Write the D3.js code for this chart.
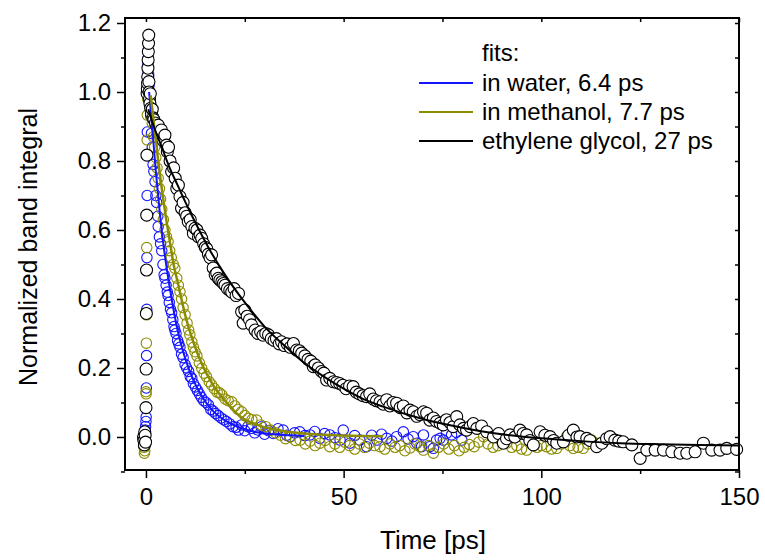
<!DOCTYPE html>
<html>
<head>
<meta charset="utf-8">
<script src="https://cdn.jsdelivr.net/npm/d3@7"></script>
<style>
  body { margin: 0; background: #fff; }
  svg text { font-family: "Liberation Sans", Arial, sans-serif; fill: #000; }
</style>
</head>
<body>
<svg id="chart" width="765" height="560"></svg>
<script>
// data: [time ps, normalized band integral]
const waterPts = [
  [-0.6,-0.01],[-0.4,0.0],[-0.3,0.01],[-0.2,0.02],[-0.1,0.03],[0.0,0.045],[0.05,0.058],[0.1,0.142],[0.15,0.236],[0.2,0.37],
  [0.25,0.52],[0.3,0.70],[0.35,0.884],[0.4,1.0],[0.45,1.05],[0.5,1.08],[0.55,1.12],[0.6,1.1],[0.7,1.05],[0.8,1.02],[0.9,0.99],
  [1.0,0.96],[1.2,0.93],[1.4,0.88],[1.6,0.84],[1.8,0.79],[2.0,0.77],[2.3,0.74],[2.5,0.70],[2.7,0.68],[3.0,0.64],
  [3.1,0.61],[3.4,0.58],[3.7,0.56],[4.0,0.54],[4.3,0.50],[4.6,0.47],[4.8,0.46],[5.1,0.44],[5.4,0.42],[5.6,0.41],
  [5.9,0.39],[6.2,0.37],[6.5,0.36],[6.8,0.34],[7.1,0.32],[7.3,0.31],[7.6,0.30],[8.0,0.28],[8.3,0.27],[8.6,0.26],
  [9.0,0.24],[9.4,0.23],[9.9,0.21],[10.3,0.20],[10.8,0.19],[11.2,0.175],[11.6,0.17],[12.0,0.155],[12.5,0.145],[13.0,0.135],
  [13.5,0.125],[14.0,0.115],[14.6,0.105],[15.2,0.10],[15.8,0.093],[16.4,0.08],[17.0,0.075],[17.6,0.068],[18.3,0.062],[19.0,0.055],
  [19.7,0.05],[20.4,0.045],[21.2,0.038],[22.0,0.03],[22.8,0.028],[23.4,0.02],[24.2,0.035],[25.0,0.018],[25.8,0.03],[26.7,0.025],
  [27.5,0.012],[28.3,0.02],[29.2,0.03],[30.0,0.008],[31.0,0.018],[32.2,0.01],[33.4,0.024],[34.7,0.02],[35.6,0.005],[36.4,0.001],
  [37.6,0.012],[38.9,0.015],[40.2,0.004],[41.5,0.006],[42.7,0.016],[44.0,-0.004],[45.2,0.01],[46.5,0.006],[47.8,-0.002],[49.1,-0.009],
  [49.9,0.02],[51.6,-0.018],[52.8,0.004],[54.1,-0.009],[55.8,-0.028],[57.1,0.005],[58.4,-0.009],[59.6,0.008],[60.9,-0.004],[62.2,-0.012],
  [63.4,0.001],[65.1,0.015],[66.3,-0.006],[67.6,0.001],[68.5,-0.018],[69.7,-0.028],[70.2,0.006],[71.8,-0.028],[72.7,-0.033],[73.5,-0.009],
  [74.4,-0.004],[75.2,-0.009],[76.0,0.01],[77.3,0.006],[78.5,0.013],[79.9,-0.009]
]

const methanolPts = [
  [-0.8,-0.005],[-0.5,-0.03],[-0.4,-0.047],[-0.3,-0.04],[-0.2,0.0],[-0.1,0.01],[0.0,0.131],[0.05,0.125],[0.1,0.272],[0.15,0.354],
  [0.2,0.549],[0.25,0.643],[0.3,0.861],[0.35,0.933],[0.45,0.98],[0.55,1.0],[0.7,0.99],[0.9,0.97],
  [1.1,0.95],[1.3,0.93],[1.6,0.91],[1.9,0.87],[2.2,0.84],[2.5,0.81],[2.8,0.78],[3.1,0.75],[3.4,0.72],[3.7,0.69],
  [4.0,0.66],[4.4,0.63],[4.8,0.6],[5.2,0.58],[5.6,0.566],[6.0,0.54],[6.4,0.52],[6.9,0.5],[7.3,0.489],[7.8,0.46],
  [8.2,0.44],[8.6,0.421],[9.0,0.4],[9.4,0.375],[9.9,0.354],[10.4,0.33],[10.8,0.31],[11.1,0.296],[11.6,0.275],[12.0,0.26],
  [12.4,0.247],[12.9,0.235],[13.5,0.215],[14.1,0.199],[14.7,0.185],[15.3,0.175],[16.0,0.16],[16.6,0.151],[17.3,0.14],[18.0,0.13],
  [18.6,0.128],[19.2,0.122],[20.0,0.11],[20.8,0.105],[21.7,0.102],[22.5,0.09],[23.3,0.08],[24.2,0.073],[25.0,0.062],[25.9,0.054],
  [26.8,0.05],[28.0,0.049],[29.0,0.035],[30.3,0.03],[31.5,0.02],[32.8,0.012],[34.0,0.005],[35.3,-0.005],[36.5,0.0],[37.8,-0.01],
  [39.0,-0.009],[40.3,-0.02],[41.5,-0.012],[42.8,-0.025],[44.0,-0.018],[45.3,-0.01],[46.5,-0.028],[47.8,-0.02],[49.0,-0.03],[50.3,-0.015],
  [51.5,-0.025],[52.8,-0.035],[54.0,-0.02],[55.3,-0.03],[56.5,-0.018],[57.8,-0.025],[59.2,-0.028],[60.4,-0.035],[61.7,-0.02],[63.0,-0.03],
  [64.2,-0.025],[65.5,-0.04],[66.8,-0.032],[68.0,-0.02],[69.3,-0.028],[70.2,-0.038],[71.5,-0.025],[72.7,-0.047],[74.0,-0.03],[75.3,-0.02],
  [76.6,-0.035],[78.0,-0.025],[79.2,-0.04],[80.5,-0.03],[81.8,-0.022],[83.0,-0.028],[84.2,-0.015],[85.4,0.001],[86.5,-0.02],[87.8,-0.03],
  [89.0,-0.025],[90.0,-0.01],[91.2,-0.018],[92.5,-0.03],[93.8,-0.025],[95.0,-0.035],[96.3,-0.038],[97.6,-0.02],[98.9,-0.03],[100.0,-0.025],
  [101.3,-0.028],[102.6,-0.035],[103.9,-0.033],[105.1,-0.02],[106.4,0.001],[107.2,-0.025],[108.1,-0.033],[109.3,-0.03],[110.6,-0.033],[111.8,-0.02],
  [112.7,-0.009],[114.0,-0.018]
]

const glycolPts = [
  [-0.6,0.0],[-0.5,-0.01],[-0.4,-0.023],[-0.3,0.015],[-0.2,0.005],[-0.1,-0.015],[0.0,0.085],[0.05,0.197],[0.1,0.358],[0.15,0.484],
  [0.2,0.643],[0.25,0.817],[0.3,0.996],[0.35,1.01],[0.4,1.025],[0.45,1.044],[0.5,1.069],[0.55,1.093],[0.6,1.117],[0.65,1.141],
  [0.7,1.165],[0.75,1.03],[0.8,1.0],[0.9,0.98],[1.0,0.967],[1.1,0.995],[1.2,0.953],[1.4,0.938],[1.6,0.95],[1.8,0.925],
  [2.0,0.92],[2.4,0.91],[2.8,0.9],[3.1,0.904],[3.5,0.88],[3.9,0.89],[4.3,0.86],[4.8,0.875],[5.2,0.846],[5.4,0.827],
  [5.7,0.84],[6.1,0.8],[6.5,0.769],[7.0,0.78],[7.4,0.75],[7.8,0.72],[8.2,0.73],[8.6,0.697],[9.0,0.663],[9.4,0.68],
  [9.9,0.65],[10.3,0.64],[10.7,0.624],[11.2,0.63],[11.6,0.61],[12.0,0.59],[12.4,0.605],[12.9,0.6],[13.3,0.58],[13.7,0.585],
  [14.1,0.576],[14.6,0.56],[15.0,0.55],[15.4,0.545],[15.8,0.53],[16.2,0.52],[16.6,0.528],[17.0,0.49],[17.5,0.47],[17.9,0.475],
  [18.3,0.46],[18.7,0.455],[19.2,0.45],[19.6,0.445],[20.0,0.44],[20.6,0.43],[21.2,0.425],[21.7,0.42],[22.3,0.43],[22.8,0.41],
  [23.4,0.416],[24.2,0.363],[24.6,0.33],[25.0,0.368],[25.6,0.35],[26.2,0.34],[26.7,0.325],[27.6,0.31],[28.3,0.3],[29.0,0.305],
  [29.6,0.295],[30.3,0.3],[31.0,0.296],[31.7,0.285],[32.4,0.28],[33.0,0.285],[33.7,0.27],[34.3,0.276],[35.0,0.265],[35.7,0.27],
  [36.5,0.26],[37.3,0.271],[38.1,0.252],[38.8,0.25],[39.4,0.243],[40.2,0.235],[41.0,0.225],[41.7,0.22],[42.3,0.204],[42.8,0.209],
  [43.6,0.2],[44.4,0.19],[45.0,0.185],[45.7,0.165],[46.5,0.17],[47.4,0.16],[48.2,0.158],[49.0,0.155],[49.8,0.15],[50.6,0.14],
  [51.5,0.148],[52.4,0.146],[53.2,0.13],[54.0,0.125],[54.9,0.12],[55.8,0.117],[56.6,0.125],[57.5,0.11],[58.3,0.105],[59.2,0.102],
  [60.0,0.095],[60.9,0.108],[61.7,0.09],[62.5,0.1],[63.4,0.098],[64.3,0.085],[65.1,0.09],[66.0,0.07],[66.8,0.078],[67.6,0.073],
  [68.5,0.06],[69.3,0.065],[70.2,0.073],[71.0,0.069],[71.8,0.049],[72.7,0.055],[73.5,0.045],[74.4,0.04],[75.2,0.035],[76.0,0.05],
  [76.9,0.042],[77.7,0.03],[78.6,0.059],[79.4,0.035],[80.3,0.025],[81.1,0.02],[82.0,0.03],[82.8,0.039],[83.7,0.025],[84.9,0.032],
  [86.2,0.015],[87.9,0.0],[89.2,0.01],[90.4,-0.018],[91.2,-0.005],[92.1,0.006],[93.3,0.0],[94.6,0.02],[95.4,0.01],[96.3,0.006],
  [97.1,-0.01],[98.0,-0.023],[99.7,0.015],[100.9,0.005],[102.2,0.001],[103.1,-0.01],[103.9,-0.018],[105.6,-0.014],[106.9,0.005],[108.1,0.02],
  [109.0,0.0],[109.8,0.001],[111.5,-0.004],[112.3,-0.01],[114.0,-0.028],[115.3,-0.018],[116.5,-0.005],[117.4,0.001],[118.6,-0.009],[119.6,-0.012],
  [120.7,-0.014],[122.9,-0.023],[125.0,-0.062],[126.7,-0.038],[128.8,-0.038],[130.9,-0.038],[133.0,-0.043],[135.1,-0.047],[136.8,-0.047],[138.9,-0.043],
  [141.0,-0.018],[143.1,-0.038],[145.2,-0.038],[146.9,-0.033],[149.4,-0.036]
]

// fit curves
const waterFitT = [0.8, 1.5, 2.5, 3.5, 4.5, 5.5, 6.5, 8, 10, 12, 14, 17, 20, 24, 28, 33, 40]
const waterFitV = [1.0, 0.91, 0.77, 0.65, 0.55, 0.47, 0.4, 0.31, 0.225, 0.165, 0.12, 0.075, 0.048, 0.026, 0.014, 0.007, 0.003]
const methanolFitT = [1.2, 2, 3, 4, 5, 6, 7, 8, 10, 12, 14, 17, 20, 24, 28, 33, 40, 50, 60]
const methanolFitV = [0.99, 0.91, 0.81, 0.72, 0.64, 0.57, 0.5, 0.45, 0.35, 0.275, 0.215, 0.15, 0.105, 0.058, 0.036, 0.02, 0.01, 0.004, 0.002]
const glycolFitT = [0.6, 2, 4, 6, 8, 10, 13, 16, 20, 25, 30, 35, 40, 45, 50, 55, 60, 70, 80, 90, 100, 110, 120, 130, 140, 150]
const glycolFitV = [0.95, 0.9, 0.84, 0.78, 0.73, 0.68, 0.61, 0.545, 0.47, 0.39, 0.32, 0.265, 0.215, 0.175, 0.14, 0.11, 0.088, 0.052, 0.027, 0.008, -0.004, -0.012, -0.018, -0.021, -0.023, -0.025]

const xTicks = [0, 50, 100, 150]
const xMinor = [25, 75, 125]
const yTicks = [0.0, 0.2, 0.4, 0.6, 0.8, 1.0, 1.2]
const yMinor = [-0.1, 0.1, 0.3, 0.5, 0.7, 0.9, 1.1]

const legendLabels = ['in water, 6.4 ps', 'in methanol, 7.7 ps', 'ethylene glycol, 27 ps']
const seriesColors = ['#1414ff', '#8c8c00', '#000000']

// layout
const plotLeft = 125, plotRight = 739, plotTop = 18, plotBottom = 470
const svg = d3.select('#chart')

const x = d3.scaleLinear([-5.3, 150], [plotLeft, plotRight])
const y = d3.scaleLinear([-0.0957, 1.2145], [plotBottom, plotTop])

// scatter points
const plot = svg.append('g')
const pointSets = [
  {pts: waterPts, color: seriesColors[0], fill: 'none', r: 5.2},
  {pts: methanolPts, color: seriesColors[1], fill: 'none', r: 5.2},
  {pts: glycolPts, color: seriesColors[2], fill: '#fff', r: 6}
]
pointSets.forEach((s) => {
  plot.append('g').selectAll('circle').data(s.pts).join('circle')
    .attr('cx', (d) => x(d[0]))
    .attr('cy', (d) => y(d[1]))
    .attr('r', s.r)
    .attr('fill', s.fill)
    .attr('stroke', s.color)
    .attr('stroke-width', 1.1)
})

// fit lines
const line = d3.line().x((d) => x(d[0])).y((d) => y(d[1])).curve(d3.curveMonotoneX)
const fits = [
  {t: waterFitT, v: waterFitV, color: seriesColors[0], w: 2},
  {t: methanolFitT, v: methanolFitV, color: seriesColors[1], w: 2.5},
  {t: glycolFitT, v: glycolFitV, color: seriesColors[2], w: 2}
]
fits.forEach((f) => {
  plot.append('path')
    .datum(f.t.map((t, i) => [t, f.v[i]]))
    .attr('d', line)
    .attr('fill', 'none')
    .attr('stroke', f.color)
    .attr('stroke-width', f.w)
})

// axes
function styleAxis(g) {
  g.select('.domain').remove()
  g.selectAll('line').attr('stroke', '#000').attr('stroke-width', 1.5)
  g.selectAll('text').style('font-size', '24px').attr('fill', '#000')
}

svg.append('g').attr('transform', `translate(${plotLeft},0)`)
  .call(d3.axisLeft(y).tickValues(yTicks).tickFormat(d3.format('.1f')).tickSize(8).tickPadding(6))
  .call(styleAxis)
svg.append('g').attr('transform', `translate(${plotLeft},0)`)
  .call(d3.axisLeft(y).tickValues(yMinor).tickFormat('').tickSize(4))
  .call(styleAxis)
svg.append('g').attr('transform', `translate(0,${plotBottom})`)
  .call(d3.axisBottom(x).tickValues(xTicks).tickFormat(d3.format('d')).tickSize(8).tickPadding(10))
  .call(styleAxis)
svg.append('g').attr('transform', `translate(0,${plotBottom})`)
  .call(d3.axisBottom(x).tickValues(xMinor).tickFormat('').tickSize(4))
  .call(styleAxis)
// mirrored inner ticks on top and right
svg.append('g').attr('transform', `translate(0,${plotTop})`)
  .call(d3.axisBottom(x).tickValues(xTicks.concat(xMinor)).tickFormat('').tickSize(4))
  .call(styleAxis)
svg.append('g').attr('transform', `translate(${plotRight},0)`)
  .call(d3.axisLeft(y).tickValues(yTicks.concat(yMinor)).tickFormat('').tickSize(4))
  .call(styleAxis)

svg.append('rect')
  .attr('x', plotLeft).attr('y', plotTop)
  .attr('width', plotRight - plotLeft).attr('height', plotBottom - plotTop)
  .attr('fill', 'none').attr('stroke', '#000').attr('stroke-width', 2)

// titles
svg.append('text')
  .attr('x', 433).attr('y', 549)
  .attr('text-anchor', 'middle').style('font-size', '26px')
  .text('Time [ps]')
svg.append('text')
  .attr('transform', 'translate(37,247) rotate(-90)')
  .attr('text-anchor', 'middle').style('font-size', '25px')
  .text('Normalized band integral')

// legend
const legend = svg.append('g')
legend.append('text').attr('x', 482).attr('y', 61).style('font-size', '24px').text('fits:')
legendLabels.forEach((lab, i) => {
  const ly = 83 + i * 29
  legend.append('line')
    .attr('x1', 419).attr('x2', 473).attr('y1', ly).attr('y2', ly)
    .attr('stroke', seriesColors[i]).attr('stroke-width', 2)
  legend.append('text')
    .attr('x', 482).attr('y', ly + 8)
    .style('font-size', '24px')
    .text(lab)
})
</script>
</body>
</html>
